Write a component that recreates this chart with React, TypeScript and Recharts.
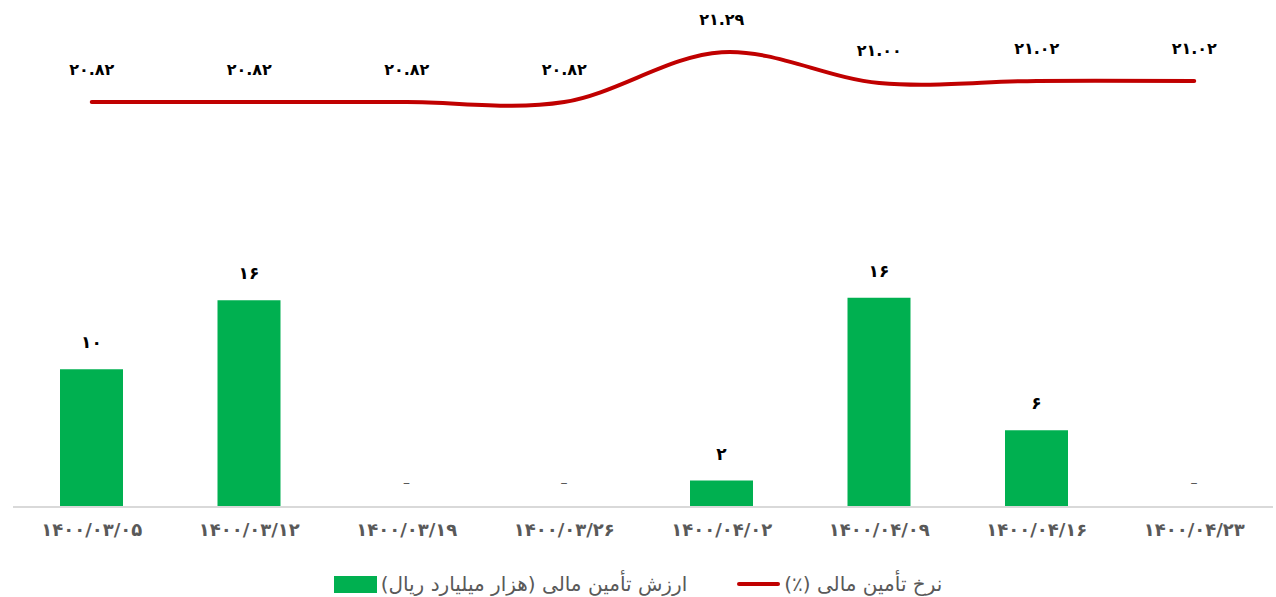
import { ComposedChart, Bar, Line, XAxis, YAxis, LabelList } from 'recharts';

const dates = ['۱۴۰۰/۰۳/۰۵', '۱۴۰۰/۰۳/۱۲', '۱۴۰۰/۰۳/۱۹', '۱۴۰۰/۰۳/۲۶', '۱۴۰۰/۰۴/۰۲', '۱۴۰۰/۰۴/۰۹', '۱۴۰۰/۰۴/۱۶', '۱۴۰۰/۰۴/۲۳'];
const financingValue = [10.4, 15.6, 0, 0, 2.0, 15.8, 5.8, 0];
const financingRate = [20.82, 20.82, 20.82, 20.82, 21.29, 21.0, 21.02, 21.02];

const valueName = 'ارزش تأمین مالی (هزار میلیارد ریال)';
const rateName = 'نرخ تأمین مالی (٪)';

const data = dates.map((d, i) => ({ date: d, value: financingValue[i], rate: financingRate[i] }));

const faDigits = '۰۱۲۳۴۵۶۷۸۹';
const toFa = (s: string) => s.replace(/[0-9]/g, (c) => faDigits[+c]);

const FONT = '"DejaVu Sans", sans-serif';

// excel-like smoothed line (catmull-rom as bezier)
const excelCurve = (context: any) => {
  let pts: number[][] = [];
  return {
    areaStart() {},
    areaEnd() {},
    lineStart() {
      pts = [];
    },
    lineEnd() {
      if (!pts.length) return;
      context.moveTo(pts[0][0], pts[0][1]);
      for (let i = 0; i < pts.length - 1; i++) {
        const p0 = pts[i - 1] || pts[i];
        const p1 = pts[i];
        const p2 = pts[i + 1];
        const p3 = pts[i + 2] || p2;
        context.bezierCurveTo(
          p1[0] + (p2[0] - p0[0]) / 6,
          p1[1] + (p2[1] - p0[1]) / 6,
          p2[0] - (p3[0] - p1[0]) / 6,
          p2[1] - (p3[1] - p1[1]) / 6,
          p2[0],
          p2[1]
        );
      }
    },
    point(x: number, y: number) {
      pts.push([+x, +y]);
    },
  };
};

const BarLabel = (props: any) => {
  const { x, y, width, value } = props;
  const zero = !value;
  return (
    <text
      x={x + width / 2}
      y={y - (zero ? 20 : 21)}
      textAnchor="middle"
      fontFamily={FONT}
      fontSize={zero ? 14 : 17}
      fontWeight={zero ? 400 : 700}
      fill={zero ? '#595959' : '#000'}
    >
      {zero ? '–' : toFa(String(Math.round(value)))}
    </text>
  );
};

const LineLabel = (props: any) => {
  const { x, y, value } = props;
  return (
    <text x={x} y={y - 27} textAnchor="middle" fontFamily={FONT} fontSize={16} fontWeight={700} fill="#000">
      {toFa(value.toFixed(2))}
    </text>
  );
};

export default function App() {
  return (
    <div style={{ position: 'absolute', left: 0, top: 0, width: 1276, height: 597, background: '#fff', fontFamily: FONT }}>
      <ComposedChart width={1276} height={545} data={data} margin={{ top: 30, right: 3, bottom: 0, left: 13 }} barSize={63}>
        <XAxis
          dataKey="date"
          height={38}
          tickLine={false}
          axisLine={{ stroke: '#d9d9d9', strokeWidth: 2 }}
          tick={{ fill: '#595959', fontSize: 18, fontWeight: 700, fontFamily: FONT }}
          tickMargin={10}
          interval={0}
        />
        <YAxis yAxisId="v" hide domain={[0, 36]} />
        <YAxis yAxisId="r" hide orientation="right" domain={[17, 21.5]} />
        <Bar yAxisId="v" dataKey="value" fill="#00b050" minPointSize={0.01} isAnimationActive={false}>
          <LabelList dataKey="value" content={BarLabel} />
        </Bar>
        <Line
          yAxisId="r"
          dataKey="rate"
          type={excelCurve as any}
          stroke="#c00000"
          strokeWidth={4}
          strokeLinecap="round"
          dot={false}
          activeDot={false}
          isAnimationActive={false}
        >
          <LabelList dataKey="rate" content={LineLabel} />
        </Line>
      </ComposedChart>
      <div
        style={{
          position: 'absolute',
          top: 572,
          left: 0,
          width: 1276,
          display: 'flex',
          justifyContent: 'center',
          alignItems: 'center',
          color: '#595959',
          fontSize: 20,
          direction: 'ltr',
        }}
      >
        <span style={{ display: 'inline-block', width: 43, height: 17, background: '#00b050', marginRight: 4 }} />
        <span style={{ direction: 'rtl', unicodeBidi: 'embed' }}>{valueName}</span>
        <span style={{ display: 'inline-block', width: 43, height: 4, borderRadius: 2, background: '#c00000', marginLeft: 50, marginRight: 4 }} />
        <span style={{ direction: 'rtl', unicodeBidi: 'embed' }}>{rateName}</span>
      </div>
    </div>
  );
}
